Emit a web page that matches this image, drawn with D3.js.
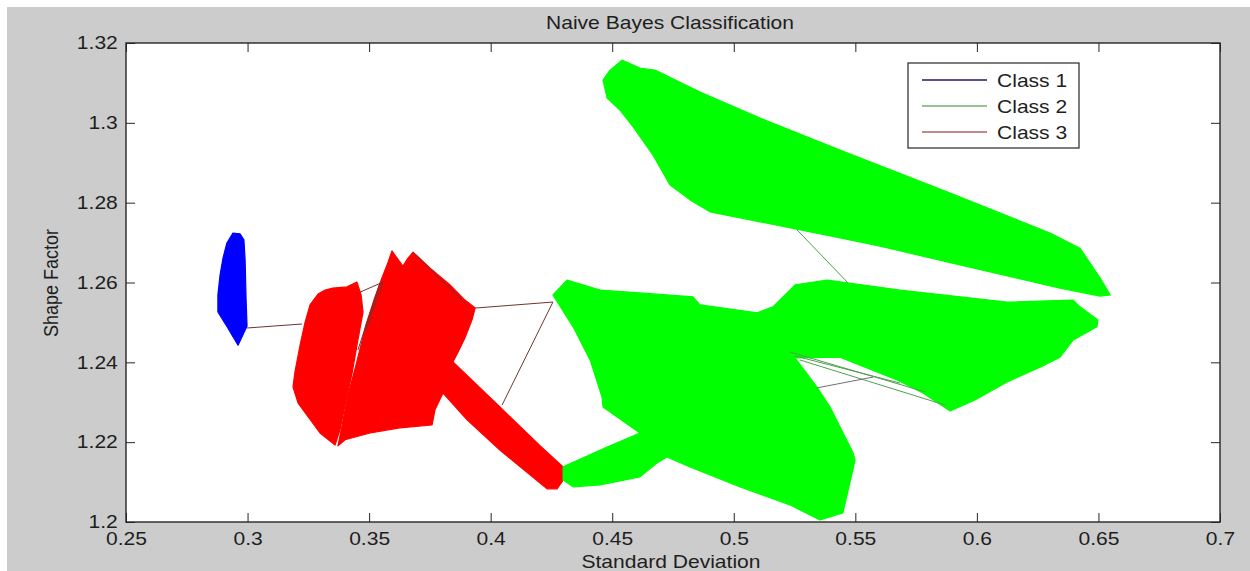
<!DOCTYPE html>
<html>
<head>
<meta charset="utf-8">
<script src="https://cdn.jsdelivr.net/npm/d3@7"></script>
<style>
  body { margin: 0; background: #fff; }
  svg { display: block; }
  text { font-family: "Liberation Sans", Arial, sans-serif; fill: #1e1e1e; }
</style>
</head>
<body>
<div id="chart"></div>
<script>
// axis ticks
const xTickValues = [0.25, 0.3, 0.35, 0.4, 0.45, 0.5, 0.55, 0.6, 0.65, 0.7];
const yTickValues = [1.2, 1.22, 1.24, 1.26, 1.28, 1.3, 1.32];
const legendLabels = ["Class 1", "Class 2", "Class 3"];

// outlines of the dense line bundles, [std dev, shape factor]
const class1Region = [
  [0.2940,1.2724],[0.2969,1.2722],[0.2985,1.2707],[0.2990,1.2656],[0.2994,1.2556],
  [0.2998,1.2491],[0.2985,1.2474],[0.2961,1.2443],[0.2940,1.2464],[0.2911,1.2494],
  [0.2878,1.2526],[0.2878,1.2569],[0.2887,1.2619],[0.2899,1.2661],[0.2915,1.2699]
];

const class2Upper = [
  [0.4540,1.3157],[0.4614,1.3137],[0.4676,1.3132],[0.4861,1.3077],[0.5108,1.3012],
  [0.5437,1.2932],[0.5890,1.2824],[0.6301,1.2724],[0.6424,1.2686],[0.6507,1.2611],
  [0.6548,1.2569],[0.6507,1.2566],[0.6342,1.2586],[0.5931,1.2644],[0.5602,1.2691],
  [0.5437,1.2712],[0.5108,1.2752],[0.4902,1.2777],[0.4820,1.2807],[0.4738,1.2844],
  [0.4668,1.2919],[0.4586,1.2990],[0.4532,1.3032],[0.4479,1.3062],[0.4462,1.3107],
  [0.4491,1.3132]
];

const class2Lower = [
  [0.4256,1.2569],[0.4314,1.2606],[0.4450,1.2581],[0.4614,1.2574],[0.4832,1.2564],
  [0.4861,1.2544],[0.5096,1.2524],[0.5161,1.2539],[0.5252,1.2594],[0.5384,1.2606],
  [0.5684,1.2581],[0.6124,1.2551],[0.6396,1.2556],[0.6424,1.2539],[0.6498,1.2506],
  [0.6494,1.2489],[0.6396,1.2456],[0.6342,1.2413],[0.6260,1.2388],[0.6124,1.2351],
  [0.5992,1.2306],[0.5890,1.2278],[0.5778,1.2323],[0.5672,1.2356],[0.5519,1.2393],
  [0.5437,1.2413],[0.5252,1.2411],[0.5342,1.2338],[0.5396,1.2288],[0.5491,1.2173],
  [0.5499,1.2155],[0.5449,1.2023],[0.5355,1.2005],[0.5231,1.2043],[0.5026,1.2088],
  [0.4820,1.2138],[0.4725,1.2163],[0.4684,1.2148],[0.4614,1.2113],[0.4450,1.2093],
  [0.4339,1.2088],[0.4298,1.2105],[0.4298,1.2138],[0.4479,1.2188],[0.4614,1.2223],
  [0.4462,1.2288],[0.4458,1.2313],[0.4409,1.2406],[0.4339,1.2489]
];

const class3Left = [
  [0.3257,1.2544],[0.3290,1.2571],[0.3319,1.2581],[0.3351,1.2586],[0.3409,1.2589],
  [0.3450,1.2601],[0.3467,1.2569],[0.3475,1.2526],[0.3454,1.2456],[0.3430,1.2373],
  [0.3397,1.2281],[0.3380,1.2231],[0.3360,1.2193],[0.3298,1.2223],[0.3208,1.2298],
  [0.3187,1.2338],[0.3195,1.2376],[0.3216,1.2443],[0.3236,1.2499]
];

const class3Main = [
  [0.3545,1.2599],[0.3578,1.2651],[0.3594,1.2679],[0.3615,1.2661],[0.3639,1.2641],
  [0.3660,1.2661],[0.3681,1.2676],[0.3751,1.2636],[0.3833,1.2594],[0.3894,1.2556],
  [0.3936,1.2536],[0.3923,1.2506],[0.3894,1.2461],[0.3866,1.2426],[0.3845,1.2401],
  [0.3812,1.2336],[0.3804,1.2323],[0.3771,1.2281],[0.3759,1.2243],[0.3627,1.2236],
  [0.3504,1.2223],[0.3401,1.2206],[0.3372,1.2191],[0.3389,1.2243],[0.3413,1.2318],
  [0.3446,1.2393],[0.3487,1.2494],[0.3520,1.2556]
];

const class3Arm = [
  [0.3845,1.2401],[0.4038,1.2288],[0.4203,1.2191],[0.4298,1.2138],[0.4298,1.2105],
  [0.4273,1.2083],[0.4232,1.2083],[0.4038,1.2180],[0.3903,1.2256],[0.3804,1.2323]
];

// single stray segments between the bundles
const class3Links = [
  [[0.2998,1.2486],[0.3224,1.2496]],
  [[0.3463,1.2576],[0.3557,1.2601]],
  [[0.3557,1.2601],[0.3487,1.2481]],
  [[0.3545,1.2599],[0.3454,1.2431]],
  [[0.3681,1.2676],[0.3894,1.2549]],
  [[0.3936,1.2536],[0.4256,1.2551]],
  [[0.4256,1.2551],[0.4047,1.2293]]
];

const class2Links = [
  [[0.5260,1.2732],[0.5470,1.2599]],
  [[0.5231,1.2426],[0.5787,1.2326]],
  [[0.5252,1.2416],[0.5684,1.2348]],
  [[0.5272,1.2406],[0.5869,1.2293]]
];

const greyLinks = [
  [[0.5342,1.2336],[0.5573,1.2363]]
];

const W = 1250, H = 571;
const margin = { top: 43, right: 30, bottom: 49, left: 126 };
const STRETCH = 1.17;

const svg = d3.select("#chart").append("svg")
  .attr("width", W)
  .attr("height", H);

// figure background
svg.append("rect")
  .attr("x", 7).attr("y", 7)
  .attr("width", W - 7).attr("height", H - 7)
  .attr("fill", "#cccccc");

const x = d3.scaleLinear().domain([0.25, 0.7]).range([margin.left, W - margin.right]);
const y = d3.scaleLinear().domain([1.2, 1.32]).range([H - margin.bottom, margin.top]);

svg.append("rect")
  .attr("x", x(0.25)).attr("y", y(1.32))
  .attr("width", x(0.7) - x(0.25)).attr("height", y(1.2) - y(1.32))
  .attr("fill", "#fff");

svg.append("clipPath").attr("id", "plotclip")
  .append("rect")
  .attr("x", x(0.25)).attr("y", y(1.32))
  .attr("width", x(0.7) - x(0.25)).attr("height", y(1.2) - y(1.32));

const plot = svg.append("g").attr("clip-path", "url(#plotclip)");

const outline = d3.line()
  .x(d => x(d[0]))
  .y(d => y(d[1]))
  .curve(d3.curveLinearClosed);

const seg = d3.line().x(d => x(d[0])).y(d => y(d[1]));

function region(pts, color) {
  plot.append("path")
    .datum(pts)
    .attr("d", outline)
    .attr("fill", color)
    .attr("stroke", color)
    .attr("stroke-width", 1.2)
    .attr("stroke-linejoin", "round");
}

region(class1Region, "#0000ff");
region(class3Left, "#ff0000");
region(class3Main, "#ff0000");
region(class3Arm, "#ff0000");
region(class2Upper, "#00ff00");
region(class2Lower, "#00ff00");

function links(list, color) {
  plot.selectAll(null)
    .data(list)
    .enter().append("path")
    .attr("d", seg)
    .attr("fill", "none")
    .attr("stroke", color)
    .attr("stroke-width", 1);
}

links(class3Links, "#6e3434");
links(class2Links, "#4fa04f");
links(greyLinks, "#707070");

// axes, ticks pointing inward on all four sides
function styleAxis(g) {
  g.select(".domain").remove();
  g.selectAll("line").attr("stroke", "#262626");
  g.selectAll("text")
    .attr("font-family", '"Liberation Sans", Arial, sans-serif')
    .attr("font-size", 18)
    .attr("fill", "#1e1e1e")
    .attr("transform", `scale(${STRETCH},1)`);
}

svg.append("g")
  .attr("transform", `translate(0,${y(1.2)})`)
  .call(d3.axisBottom(x).tickValues(xTickValues).tickSize(-9).tickPadding(10).tickFormat(d => String(d)))
  .call(styleAxis);

svg.append("g")
  .attr("transform", `translate(0,${y(1.32)})`)
  .call(d3.axisTop(x).tickValues(xTickValues).tickSize(-9).tickFormat(""))
  .call(styleAxis);

svg.append("g")
  .attr("transform", `translate(${x(0.25)},0)`)
  .call(d3.axisLeft(y).tickValues(yTickValues).tickSize(-9).tickPadding(7).tickFormat(d => String(d)))
  .call(styleAxis);

svg.append("g")
  .attr("transform", `translate(${x(0.7)},0)`)
  .call(d3.axisRight(y).tickValues(yTickValues).tickSize(-9).tickFormat(""))
  .call(styleAxis);

svg.append("rect")
  .attr("x", x(0.25)).attr("y", y(1.32))
  .attr("width", x(0.7) - x(0.25)).attr("height", y(1.2) - y(1.32))
  .attr("fill", "none")
  .attr("stroke", "#262626")
  .attr("stroke-width", 1.4);

// titles
svg.append("text")
  .attr("transform", `translate(670,29) scale(${STRETCH},1)`)
  .attr("text-anchor", "middle")
  .attr("font-size", 18)
  .text("Naive Bayes Classification");

svg.append("text")
  .attr("transform", `translate(671,568) scale(${STRETCH},1)`)
  .attr("text-anchor", "middle")
  .attr("font-size", 18)
  .text("Standard Deviation");

svg.append("text")
  .attr("transform", `translate(58,283) scale(${STRETCH},1) rotate(-90)`)
  .attr("text-anchor", "middle")
  .attr("font-size", 18)
  .text("Shape Factor");

// legend
const legendColors = ["#1a1a6e", "#74b074", "#b06060"];
const legend = svg.append("g").attr("transform", "translate(908,63)");
legend.append("rect")
  .attr("width", 171).attr("height", 85)
  .attr("fill", "#fff")
  .attr("stroke", "#262626")
  .attr("stroke-width", 1.2);

const item = legend.selectAll(".item")
  .data(legendLabels)
  .enter().append("g")
  .attr("class", "item")
  .attr("transform", (d, i) => `translate(0,${17 + i * 26})`);

item.append("line")
  .attr("x1", 14).attr("x2", 79)
  .attr("stroke", (d, i) => legendColors[i])
  .attr("stroke-width", 1.3);

item.append("text")
  .attr("transform", `translate(89,7) scale(${STRETCH},1)`)
  .attr("font-size", 18)
  .text(d => d);
</script>
</body>
</html>
